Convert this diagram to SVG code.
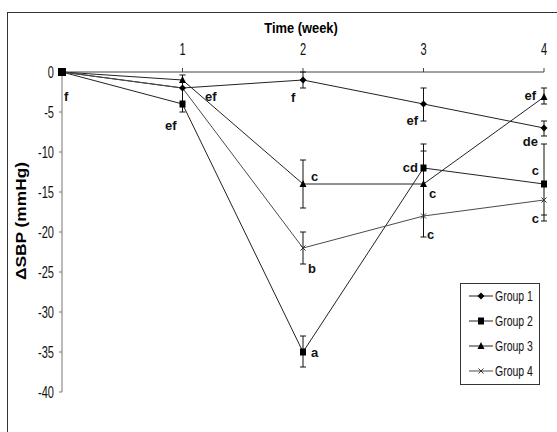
<svg xmlns="http://www.w3.org/2000/svg" width="557" height="432" viewBox="0 0 557 432">
<style>
.frame{fill:#fff;stroke:#333;stroke-width:1}
.ax{stroke:#444;stroke-width:1;fill:none}
.ay{stroke:#777;stroke-width:1;fill:none}
.s{fill:none;stroke:#222;stroke-width:1}
.s4{fill:none;stroke:#4a4a4a;stroke-width:1}
.eb{fill:none;stroke:#111;stroke-width:1}
.tk{font-family:"Liberation Sans",Arial,sans-serif;font-size:16px;fill:#111}
.lb{font-family:"Liberation Sans",Arial,sans-serif;font-size:13px;font-weight:bold;fill:#111}
.ttl{font-family:"Liberation Sans",Arial,sans-serif;font-size:15px;font-weight:bold;fill:#000}
.lg{font-family:"Liberation Sans",Arial,sans-serif;font-size:15px;fill:#111}
</style>
<defs>
<path id="dia" d="M0,-3.5 L3.5,0 L0,3.5 L-3.5,0Z" fill="#000"/>
<rect id="sq" x="-3" y="-3.5" width="6" height="7" fill="#000"/>
<path id="tri" d="M0,-4 L3.5,3 L-3.5,3Z" fill="#000"/>
<path id="xm" d="M-2.5,-2.5 L2.5,2.5 M-2.5,2.5 L2.5,-2.5" stroke="#333" stroke-width="1"/>
</defs>
<rect class="frame" x="7.5" y="12.5" width="560" height="430"/>

<g id="title"><text class="ttl" transform="translate(301,33) scale(0.86 1)" text-anchor="middle">Time (week)</text></g>
<g id="ylabel"><text class="ttl" transform="translate(26,221) rotate(-90)" text-anchor="middle" font-size="14" textLength="118" lengthAdjust="spacingAndGlyphs">ΔSBP (mmHg)</text></g>

<g id="axes">
<path class="ay" d="M62,72 V392 M59,72 H62 M59,112 H62 M59,152 H62 M59,192 H62 M59,232 H62 M59,272 H62 M59,312 H62 M59,352 H62 M59,392 H62"/>
<path class="ax" d="M62,72 H544 M182.5,68 V72 M303,68 V72 M423.5,68 V72 M544,68 V72"/>
<g text-anchor="end">
<text class="tk" transform="translate(54,78) scale(0.69 1)">0</text>
<text class="tk" transform="translate(54,118) scale(0.69 1)">-5</text>
<text class="tk" transform="translate(54,158) scale(0.69 1)">-10</text>
<text class="tk" transform="translate(54,198) scale(0.69 1)">-15</text>
<text class="tk" transform="translate(54,238) scale(0.69 1)">-20</text>
<text class="tk" transform="translate(54,278) scale(0.69 1)">-25</text>
<text class="tk" transform="translate(54,318) scale(0.69 1)">-30</text>
<text class="tk" transform="translate(54,358) scale(0.69 1)">-35</text>
<text class="tk" transform="translate(54,398) scale(0.69 1)">-40</text>
</g>
<g text-anchor="middle">
<text class="tk" transform="translate(182.5,55) scale(0.69 1)">1</text>
<text class="tk" transform="translate(303,55) scale(0.69 1)">2</text>
<text class="tk" transform="translate(423.5,55) scale(0.69 1)">3</text>
<text class="tk" transform="translate(544,55) scale(0.69 1)">4</text>
</g>
</g>

<g id="connectors">
<polyline id="line-g1" class="s" points="62,72 182.5,88 303,80 423.5,104 544,128"/>
<polyline id="line-g2" class="s" points="62,72 182.5,104 303,352 423.5,168 544,184"/>
<polyline id="line-g3" class="s" points="62,72 182.5,80 303,184 423.5,184 544,97"/>
<polyline id="line-g4" class="s4" points="62,72 182.5,88 303,248 423.5,216 544,200"/>
</g>

<g id="errorbars">
<path class="eb" d="M182.5,75 V112 M179.5,75 H185.5 M179.5,112 H185.5"/>
<path class="eb" d="M303,72 V88 M300,88 H306 M300,72 H306"/>
<path class="eb" d="M303,160 V208 M300,160 H306 M300,208 H306"/>
<path class="eb" d="M303,232 V264 M300,232 H306 M300,264 H306"/>
<path class="eb" d="M303,336 V367 M300,336 H306 M300,367 H306"/>
<path class="eb" d="M423.5,88 V121 M420.5,88 H426.5 M420.5,121 H426.5"/>
<path class="eb" d="M423.5,144 V237 M420.5,144 H426.5 M420.5,151 H426.5 M420.5,237 H426.5"/>
<path class="eb" d="M544,88 V104 M541,88 H547 M541,104 H547"/>
<path class="eb" d="M544,121 V136 M541,121 H547 M541,136 H547"/>
<path class="eb" d="M544,144 V221 M541,144 H547 M541,215 H547 M541,221 H547"/>
</g>

<g id="group1">
<use href="#dia" x="62" y="72"/><use href="#dia" x="182.5" y="88"/><use href="#dia" x="303" y="80"/><use href="#dia" x="423.5" y="104"/><use href="#dia" x="544" y="128"/>
</g>
<g id="group2">
<rect x="58" y="68" width="8" height="8" fill="#000"/>
<use href="#sq" x="182.5" y="104"/><use href="#sq" x="303" y="352"/><use href="#sq" x="423.5" y="168"/><use href="#sq" x="544" y="184"/>
</g>
<g id="group3">
<use href="#tri" x="182.5" y="80"/><use href="#tri" x="303" y="184"/><use href="#tri" x="423.5" y="184"/><use href="#tri" x="544" y="97"/>
</g>
<g id="group4">
<use href="#xm" x="303" y="248"/><use href="#xm" x="423.5" y="216"/><use href="#xm" x="544" y="200"/>
</g>

<g id="letters">
<text class="lb" x="64" y="101">f</text>
<text class="lb" x="205" y="101">ef</text>
<text class="lb" x="165" y="130">ef</text>
<text class="lb" x="291" y="102">f</text>
<text class="lb" x="311" y="181">c</text>
<text class="lb" x="308" y="273">b</text>
<text class="lb" x="311" y="357">a</text>
<text class="lb" x="418" y="125" text-anchor="end">ef</text>
<text class="lb" x="418" y="172" text-anchor="end">cd</text>
<text class="lb" x="429" y="198">c</text>
<text class="lb" x="427" y="239">c</text>
<text class="lb" x="536" y="100" text-anchor="end">ef</text>
<text class="lb" x="538" y="146" text-anchor="end">de</text>
<text class="lb" x="539" y="175" text-anchor="end">c</text>
<text class="lb" x="539" y="223" text-anchor="end">c</text>
</g>

<g id="legend">
<rect x="460.5" y="283.5" width="79" height="101" fill="#fff" stroke="#333" stroke-width="1"/>
<path class="s" d="M469,296 H493 M469,321 H493 M469,346 H493"/>
<path class="s4" d="M469,371 H493"/>
<use href="#dia" x="481" y="296"/>
<use href="#sq" x="481" y="321"/>
<use href="#tri" x="481" y="346"/>
<use href="#xm" x="481" y="371"/>
<text class="lg" transform="translate(495,301) scale(0.7 1)">Group 1</text>
<text class="lg" transform="translate(495,326) scale(0.7 1)">Group 2</text>
<text class="lg" transform="translate(495,351) scale(0.7 1)">Group 3</text>
<text class="lg" transform="translate(495,376) scale(0.7 1)">Group 4</text>
</g>
</svg>
